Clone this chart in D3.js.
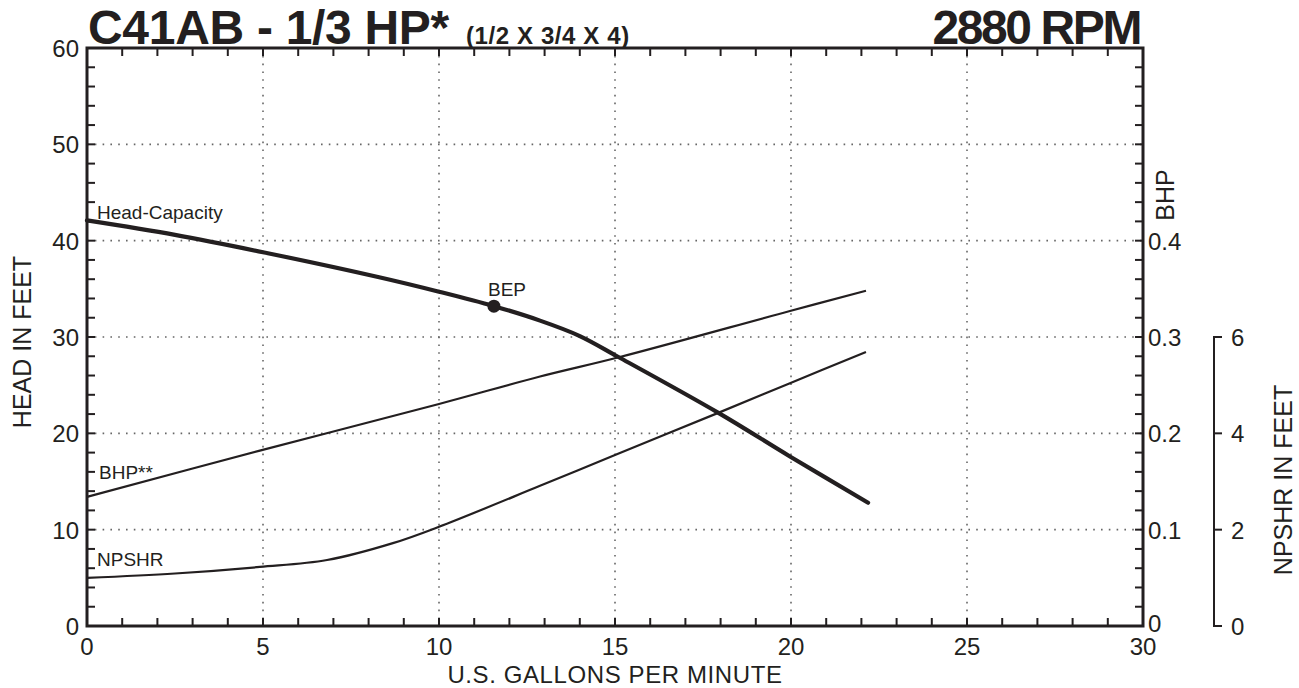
<!DOCTYPE html>
<html><head><meta charset="utf-8">
<script src="https://cdn.jsdelivr.net/npm/d3@7"></script>
<style>
body{margin:0;background:#fff;}
text{font-family:"Liberation Sans",Arial,Helvetica,sans-serif;fill:#231f20;}
</style></head>
<body><svg id="c" width="1299" height="688"></svg>
<script>
// ---- data ----
const xTicks = [0,5,10,15,20,25,30];
const headTicks = [0,10,20,30,40,50,60];
const bhpTicks = [0,0.1,0.2,0.3,0.4];
const npshTicks = [0,2,4,6];

const headGpm = [0,2.5,5,8.3,10,11.56,12.87,14,15.11,17.95,19.97,22.19];
const headFt  = [42.1,40.6,38.8,36.2,34.7,33.2,31.7,30.1,27.9,22.1,17.6,12.8];

const bhpGpm = [0,4.91,10,12.87,15.11,19.97,22.13];
const bhpVal = [0.134,0.182,0.2305,0.259,0.279,0.327,0.348];

const npshGpm = [0,2.5,4.91,6.82,8.69,10,12.87,15,17.95,19.97,22.13];
const npshVal = [1.0,1.09,1.226,1.37,1.72,2.06,2.91,3.55,4.43,5.04,5.69];

const bep = {gpm:11.56, head:33.2};

// ---- layout ----
const svg = d3.select("#c");
const L=87,R=1143,T=48,B=626;
const col="#231f20";
const x = d3.scaleLinear().domain([0,30]).range([L,R]);
const y = d3.scaleLinear().domain([0,60]).range([B,T]);
const yB = d3.scaleLinear().domain([0,0.6]).range([B,T]);
const yN = d3.scaleLinear().domain([0,6]).range([B,y(30)]);

// grid
const g = svg.append("g").attr("stroke","#666").attr("stroke-width",1.6).attr("stroke-dasharray","1.6,6.2");
[5,10,15,20,25].forEach(v=>g.append("line").attr("x1",x(v)).attr("x2",x(v)).attr("y1",T).attr("y2",B));
[10,20,30,40,50].forEach(v=>g.append("line").attr("x1",L).attr("x2",R).attr("y1",y(v)).attr("y2",y(v)));

// minor ticks
const tk = svg.append("g").attr("stroke",col).attr("stroke-width",2);
d3.range(1,30).forEach(v=>{
  tk.append("line").attr("x1",x(v)).attr("x2",x(v)).attr("y1",B).attr("y2",B-8);
  tk.append("line").attr("x1",x(v)).attr("x2",x(v)).attr("y1",T).attr("y2",T+8);
});
d3.range(2,60,2).forEach(v=>{
  tk.append("line").attr("x1",L).attr("x2",L+8).attr("y1",y(v)).attr("y2",y(v));
  tk.append("line").attr("x1",R).attr("x2",R-8).attr("y1",y(v)).attr("y2",y(v));
});

// frame
svg.append("rect").attr("x",L).attr("y",T).attr("width",R-L).attr("height",B-T)
  .attr("fill","none").attr("stroke",col).attr("stroke-width",3);

// tick labels
const fs=24;
xTicks.forEach(v=>svg.append("text").attr("x",x(v)).attr("y",B+29).attr("text-anchor","middle").attr("font-size",fs).text(v));
headTicks.forEach(v=>svg.append("text").attr("x",L-8).attr("y",y(v)+9).attr("text-anchor","end").attr("font-size",fs).text(v));
bhpTicks.forEach(v=>svg.append("text").attr("x",R+5).attr("y",yB(v)+(v===0?6:9)).attr("font-size",fs).text(v===0?"0":v.toFixed(1)));

// NPSHR axis
const nx=1214;
svg.append("line").attr("x1",nx).attr("x2",nx).attr("y1",yN(6)-1).attr("y2",yN(0)+1).attr("stroke",col).attr("stroke-width",2);
npshTicks.forEach(v=>{
  svg.append("line").attr("x1",nx).attr("x2",nx+8).attr("y1",yN(v)).attr("y2",yN(v)).attr("stroke",col).attr("stroke-width",2);
  svg.append("text").attr("x",nx+17).attr("y",yN(v)+9).attr("font-size",fs).text(v);
});

// axis titles
svg.append("text").attr("x",(x(10)+x(20))/2).attr("y",683).attr("text-anchor","middle").attr("font-size",24).attr("letter-spacing",0.6).text("U.S. GALLONS PER MINUTE");
svg.append("text").attr("transform","translate(31,"+((y(20)+y(40))/2+5)+") rotate(-90)").attr("text-anchor","middle").attr("font-size",25).text("HEAD IN FEET");
svg.append("text").attr("transform","translate(1292,480) rotate(-90)").attr("text-anchor","middle").attr("font-size",25).text("NPSHR IN FEET");
svg.append("text").attr("transform","translate(1174,195) rotate(-90)").attr("text-anchor","middle").attr("font-size",25).text("BHP");

// title
svg.append("text").attr("x",88).attr("y",44).attr("font-size",48).attr("font-weight","bold").attr("letter-spacing",-0.3).text("C41AB - 1/3 HP*");
svg.append("text").attr("x",466).attr("y",44).attr("font-size",24).attr("font-weight","bold").attr("letter-spacing",0.6).text("(1/2 X 3/4 X 4)");
svg.append("text").attr("x",1140).attr("y",44).attr("text-anchor","end").attr("font-size",48).attr("font-weight","bold").attr("letter-spacing",-2.4).text("2880 RPM");

// curves
const line = d3.line().curve(d3.curveCatmullRom.alpha(0.5));
svg.append("path").attr("d",line(headGpm.map((g,i)=>[x(g),y(headFt[i])])))
  .attr("fill","none").attr("stroke",col).attr("stroke-width",4.2).attr("stroke-linecap","round");
svg.append("path").attr("d",line(bhpGpm.map((g,i)=>[x(g),yB(bhpVal[i])])))
  .attr("fill","none").attr("stroke",col).attr("stroke-width",2.2);
svg.append("path").attr("d",line(npshGpm.map((g,i)=>[x(g),yN(npshVal[i])])))
  .attr("fill","none").attr("stroke",col).attr("stroke-width",2.2);

svg.append("circle").attr("cx",x(bep.gpm)).attr("cy",y(bep.head)).attr("r",6.5).attr("fill",col);

// curve labels
const lf=19;
svg.append("text").attr("x",97).attr("y",219).attr("font-size",lf).text("Head-Capacity");
svg.append("text").attr("x",488).attr("y",296).attr("font-size",lf).text("BEP");
svg.append("text").attr("x",99).attr("y",479).attr("font-size",lf).text("BHP**");
svg.append("text").attr("x",97).attr("y",566).attr("font-size",lf).text("NPSHR");
</script></body></html>
